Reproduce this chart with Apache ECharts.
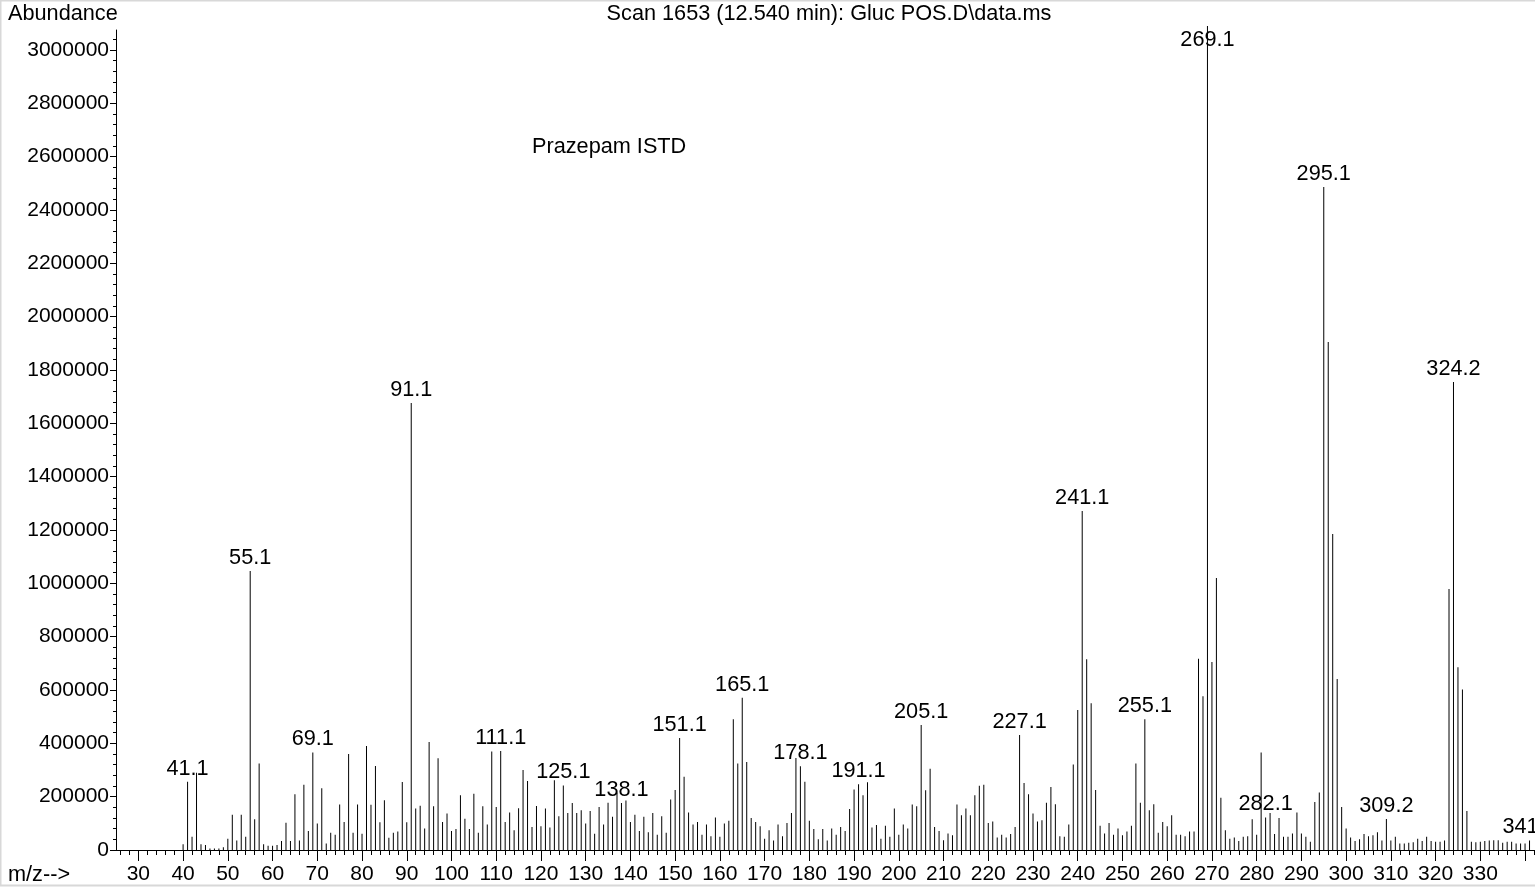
<!DOCTYPE html>
<html><head><meta charset="utf-8">
<script src="https://cdn.jsdelivr.net/npm/echarts@6/dist/echarts.min.js"></script>
<style>html,body{margin:0;padding:0;background:#fff;overflow:hidden}#c{width:1535px;height:888px}</style>
</head><body><div id="c"></div>
<script>
// m/z values (integer masses)
const mz = [
 40,41,42,43,44,45,46,47,48,49,
 50,51,52,53,54,55,56,57,58,59,
 60,61,62,63,64,65,66,67,68,69,
 70,71,72,73,74,75,76,77,78,79,
 80,81,82,83,84,85,86,87,88,89,
 90,91,92,93,94,95,96,97,98,99,
 100,101,102,103,104,105,106,107,108,109,
 110,111,112,113,114,115,116,117,118,119,
 120,121,122,123,124,125,126,127,128,129,
 130,131,132,133,134,135,136,137,138,139,
 140,141,142,143,144,145,146,147,148,149,
 150,151,152,153,154,155,156,157,158,159,
 160,161,162,163,164,165,166,167,168,169,
 170,171,172,173,174,175,176,177,178,179,
 180,181,182,183,184,185,186,187,188,189,
 190,191,192,193,194,195,196,197,198,199,
 200,201,202,203,204,205,206,207,208,209,
 210,211,212,213,214,215,216,217,218,219,
 220,221,222,223,224,225,226,227,228,229,
 230,231,232,233,234,235,236,237,238,239,
 240,241,242,243,244,245,246,247,248,249,
 250,251,252,253,254,255,256,257,258,259,
 260,261,262,263,264,265,266,267,268,269,
 270,271,272,273,274,275,276,277,278,279,
 280,281,282,283,284,285,286,287,288,289,
 290,291,292,293,294,295,296,297,298,299,
 300,301,302,303,304,305,306,307,308,309,
 310,311,312,313,314,315,316,317,318,319,
 320,321,322,323,324,325,326,327,328,329,
 330,331,332,333,334,335,336,337,338,339,
 340,341
];
// abundance for each m/z above
const abundance = [
 22000,256000,50000,290000,22000,19000,6000,6000,6000,10000,
 42000,132000,36000,132000,50000,1046000,115000,324000,22000,16000,
 16000,19000,34000,102000,34000,209000,36000,245000,71000,366000,
 99000,232000,24000,65000,57000,171000,105000,360000,65000,171000,
 61000,390000,170000,315000,104000,187000,46000,65000,69000,255000,
 104000,1676000,156000,166000,81000,405000,164000,344000,105000,137000,
 71000,79000,205000,117000,79000,211000,65000,164000,96000,369000,
 161000,371000,105000,141000,74000,157000,300000,259000,86000,165000,
 89000,156000,84000,262000,127000,242000,139000,176000,139000,149000,
 99000,146000,61000,161000,96000,177000,125000,216000,176000,186000,
 105000,132000,71000,125000,67000,139000,57000,127000,65000,189000,
 225000,420000,275000,141000,96000,105000,57000,96000,52000,122000,
 50000,99000,110000,490000,324000,571000,330000,120000,105000,89000,
 42000,74000,36000,96000,52000,101000,139000,345000,314000,256000,
 110000,79000,40000,79000,36000,81000,57000,86000,71000,154000,
 227000,247000,205000,254000,84000,94000,42000,91000,50000,156000,
 57000,96000,81000,171000,164000,469000,224000,305000,86000,71000,
 37000,62000,55000,171000,130000,156000,130000,205000,241000,245000,
 101000,107000,47000,57000,47000,60000,86000,431000,251000,209000,
 137000,107000,112000,177000,236000,172000,52000,50000,96000,321000,
 525000,1271000,715000,550000,225000,91000,62000,101000,57000,81000,
 55000,69000,91000,324000,177000,490000,149000,172000,65000,105000,
 89000,130000,57000,57000,52000,69000,69000,717000,577000,3090000,
 705000,1020000,196000,74000,42000,47000,34000,50000,52000,115000,
 57000,366000,122000,139000,60000,120000,50000,50000,62000,141000,
 62000,50000,31000,180000,216000,2486000,1905000,1185000,641000,161000,
 81000,47000,34000,40000,60000,52000,55000,67000,36000,116000,
 36000,50000,24000,24000,27000,29000,42000,34000,50000,34000,
 31000,31000,36000,979000,1755000,685000,602000,146000,31000,29000,
 31000,34000,36000,37000,37000,27000,31000,31000,24000,24000,
 24000,36000
];
// labelled peaks: [m/z, label text]
const peakLabelMz = [41,55,69,91,111,125,138,151,165,178,191,205,227,241,255,269,282,295,309,324,341];
const peakLabelText = ['41.1','55.1','69.1','91.1','111.1','125.1','138.1','151.1','165.1','178.1','191.1','205.1','227.1','241.1','255.1','269.1','282.1','295.1','309.2','324.2','341.2'];
// axis ticks
const xMajorTicks = [30,40,50,60,70,80,90,100,110,120,130,140,150,160,170,180,190,200,210,220,230,240,250,260,270,280,290,300,310,320,330,340];
const xTickLabels = [30,40,50,60,70,80,90,100,110,120,130,140,150,160,170,180,190,200,210,220,230,240,250,260,270,280,290,300,310,320,330];
const yTickLabels = [0,200000,400000,600000,800000,1000000,1200000,1400000,1600000,1800000,2000000,2200000,2400000,2600000,2800000,3000000];
const titleText = 'Scan 1653 (12.540 min): Gluc POS.D\\data.ms';
const yAxisTitle = 'Abundance';
const xAxisTitle = 'm/z-->';
const noteText = 'Prazepam ISTD';

const FONT = '"Liberation Sans", Arial, sans-serif';
const FS = 21;     // tick labels
const FT = 21.7;   // titles and peak labels

const xMinor = [];
for (let v = 26; v <= 342; v += 2) if (v % 10 !== 0) xMinor.push(v);
const yMinor = [];
for (let v = 40000; v <= 3070000; v += 40000) if (v % 200000 !== 0) yMinor.push(v);

const labelIdx = {};
peakLabelMz.forEach((m, i) => { labelIdx[m] = peakLabelText[i]; });
const data = mz.map((m, i) => {
  const item = { value: [m, abundance[i]] };
  if (labelIdx[m]) {
    item.label = { show: true, formatter: labelIdx[m] };
    if (m === 269) item.label.offset = [0, 27];
  }
  return item;
});

const chart = echarts.init(document.getElementById('c'), null, { renderer: 'canvas' });
chart.setOption({
  animation: false,
  backgroundColor: '#fff',
  textStyle: { fontFamily: FONT },
  grid: { left: 116, right: 1, top: 30, bottom: 38, containLabel: false },
  xAxis: [{
    type: 'value', min: 25, max: 342,
    axisLine: { show: true, lineStyle: { color: '#000', width: 1 } },
    axisTick: { show: true, customValues: xMajorTicks, length: 11, lineStyle: { color: '#000', width: 1 } },
    axisLabel: { customValues: xTickLabels, fontSize: FS, color: '#000', margin: 14, fontFamily: FONT, lineHeight: 21,
      formatter: v => String(v) },
    splitLine: { show: false }
  }, {
    type: 'value', min: 25, max: 342, position: 'bottom', offset: 0,
    axisLine: { show: false },
    axisTick: { show: true, customValues: xMinor, length: 5, lineStyle: { color: '#000', width: 1 } },
    axisLabel: { show: false }, splitLine: { show: false }
  }],
  yAxis: [{
    type: 'value', min: 0, max: 3075000,
    axisLine: { show: true, lineStyle: { color: '#000', width: 1 } },
    axisTick: { show: true, customValues: yTickLabels, length: 6, lineStyle: { color: '#000', width: 1 } },
    axisLabel: { customValues: yTickLabels, fontSize: FS, color: '#000', margin: 7, fontFamily: FONT,
      formatter: v => String(v) },
    splitLine: { show: false }
  }, {
    type: 'value', min: 0, max: 3075000, position: 'left', offset: 0,
    axisLine: { show: false },
    axisTick: { show: true, customValues: yMinor, length: 3, lineStyle: { color: '#000', width: 1 } },
    axisLabel: { show: false }, splitLine: { show: false }
  }],
  series: [{
    type: 'bar',
    xAxisIndex: 0, yAxisIndex: 0,
    barWidth: 1,
    clip: false,
    itemStyle: { color: '#000' },
    label: { show: false, position: 'top', distance: 2, fontSize: FT, color: '#000', fontFamily: FONT },
    data: data
  }],
  graphic: [
    { type: 'rect', shape: { x: 0.5, y: 0.5, width: 1540, height: 885 }, style: { fill: 'none', stroke: '#d8d8d8', lineWidth: 2 }, silent: true, z: 100 },
    { type: 'text', x: 829, y: 14, style: { text: titleText, font: FT + 'px ' + FONT, fill: '#000', textAlign: 'center', textVerticalAlign: 'middle' } },
    { type: 'text', x: 8, y: 14, style: { text: yAxisTitle, font: FT + 'px ' + FONT, fill: '#000', textAlign: 'left', textVerticalAlign: 'middle' } },
    { type: 'text', x: 8, y: 875, style: { text: xAxisTitle, font: FT + 'px ' + FONT, fill: '#000', textAlign: 'left', textVerticalAlign: 'middle' } },
    { type: 'text', x: 532, y: 147, style: { text: noteText, font: FT + 'px ' + FONT, fill: '#000', textAlign: 'left', textVerticalAlign: 'middle' } }
  ]
});
</script>
</body></html>
